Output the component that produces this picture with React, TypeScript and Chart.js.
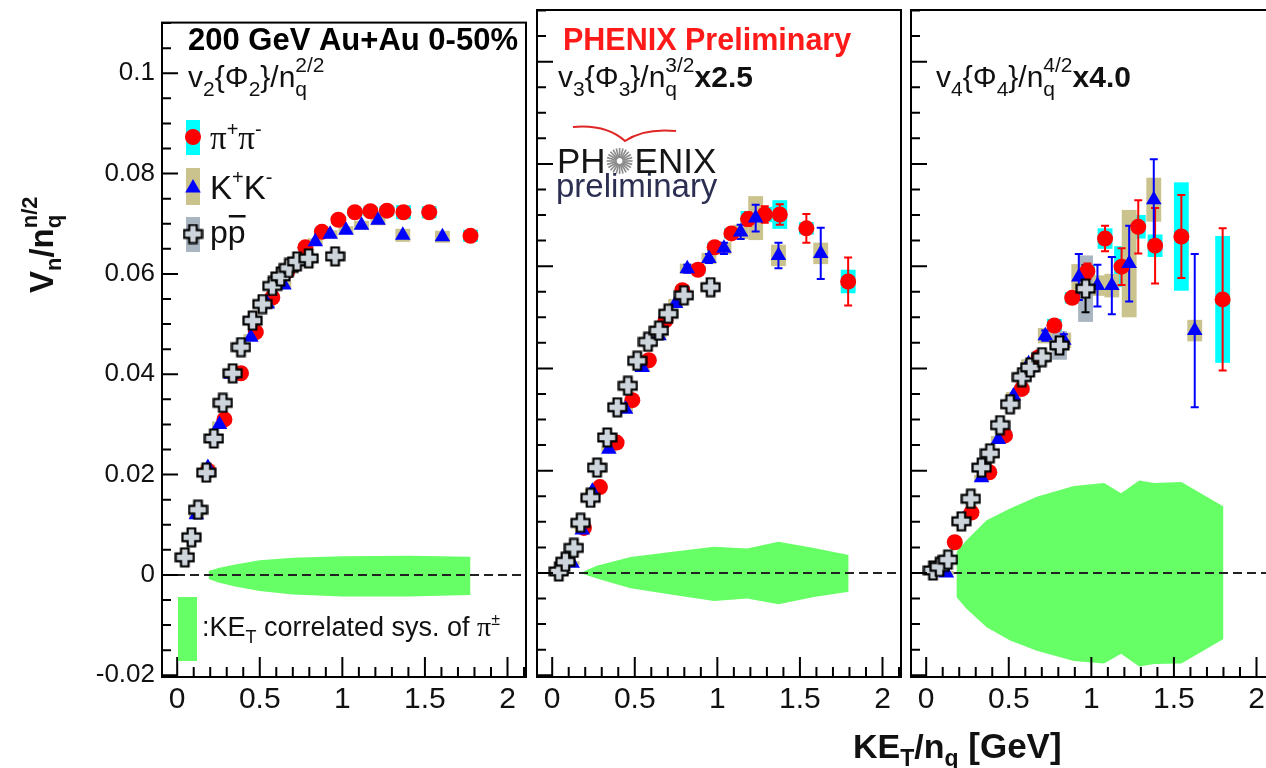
import React, { useEffect, useRef } from "react";
import { Chart, registerables } from "chart.js";
Chart.register(...registerables);

// ---------- axes ----------
const X_MIN = -0.092;
const X_MAX = 2.112;
const Y_MIN = -0.02035;
const Y_MAX = 0.1101;
const X_TICKS = [0, 0.5, 1, 1.5, 2];
const Y_TICKS = [-0.02, 0, 0.02, 0.04, 0.06, 0.08, 0.1];
const X_MINOR = 0.1;
const Y_MINOR = 0.005;
const BOX_HALF = 0.045;

// ---------- panel 1 : v2{Phi2}/nq^{2/2} ----------
const PI1_X = [0.186, 0.286, 0.386, 0.476, 0.576, 0.666, 0.776, 0.876, 0.976, 1.076, 1.17, 1.27, 1.37, 1.526, 1.776];
const PI1_Y = [0.0208, 0.031, 0.0402, 0.0484, 0.0553, 0.0605, 0.0653, 0.0684, 0.0708, 0.0723, 0.0725, 0.0726, 0.0723, 0.0723, 0.0676];
const PI1_ERR = [0, 0, 0, 0, 0, 0, 0, 0, 0, 0, 0, 0, 0, 0, 0];
const PI1_SYS = [0.0005, 0.0005, 0.0005, 0.0006, 0.0006, 0.0006, 0.0007, 0.0007, 0.0008, 0.0008, 0.0009, 0.001, 0.0014, 0.0012, 0.0012];
const K1_X = [0.116, 0.186, 0.256, 0.326, 0.446, 0.546, 0.646, 0.736, 0.836, 0.926, 1.022, 1.116, 1.216, 1.366, 1.606];
const K1_Y = [0.012, 0.0214, 0.03, 0.04, 0.0474, 0.054, 0.0578, 0.0625, 0.0664, 0.0679, 0.0687, 0.0697, 0.0707, 0.0677, 0.0674];
const K1_ERR = [0, 0, 0, 0, 0, 0, 0, 0, 0, 0, 0, 0, 0, 0, 0];
const K1_SYS = [0.0006, 0.0006, 0.0006, 0.0006, 0.0006, 0.0006, 0.0007, 0.0007, 0.0007, 0.0008, 0.0008, 0.0009, 0.001, 0.0013, 0.0012];
const P1_X = [0.046, 0.086, 0.126, 0.176, 0.222, 0.276, 0.336, 0.386, 0.456, 0.516, 0.576, 0.626, 0.676, 0.726, 0.796, 0.956];
const P1_Y = [0.0035, 0.0075, 0.013, 0.0204, 0.0272, 0.0343, 0.0402, 0.0454, 0.0507, 0.054, 0.0576, 0.0595, 0.0612, 0.0625, 0.0631, 0.0635];
const P1_ERR = [0, 0, 0, 0, 0, 0, 0, 0, 0, 0, 0, 0, 0, 0, 0, 0];
const P1_SYS = [0.0004, 0.0004, 0.0004, 0.0005, 0.0005, 0.0005, 0.0005, 0.0005, 0.0006, 0.0006, 0.0006, 0.0006, 0.0006, 0.0006, 0.0007, 0.0007];
const BAND1_X = [0.19, 0.25, 0.35, 0.5, 0.7, 1.0, 1.4, 1.776];
const BAND1_HI = [0.0008, 0.0014, 0.0021, 0.0029, 0.0034, 0.0037, 0.0038, 0.0036];
const BAND1_LO = [-0.0008, -0.0015, -0.0023, -0.0032, -0.0039, -0.0043, -0.0043, -0.004];

// ---------- panel 2 : v3{Phi3}/nq^{3/2} x2.5 ----------
const PI2_X = [0.192, 0.289, 0.39, 0.485, 0.585, 0.686, 0.788, 0.883, 0.984, 1.085, 1.186, 1.287, 1.378, 1.539, 1.792];
const PI2_Y = [0.0088, 0.0168, 0.0255, 0.0338, 0.0416, 0.0494, 0.0553, 0.0593, 0.0637, 0.0664, 0.0692, 0.0701, 0.0701, 0.0674, 0.057];
const PI2_ERR = [0.0002, 0.0002, 0.0002, 0.0003, 0.0003, 0.0004, 0.0005, 0.0006, 0.0008, 0.001, 0.0013, 0.0016, 0.002, 0.0028, 0.0047];
const PI2_SYS = [0.0004, 0.0004, 0.0005, 0.0005, 0.0006, 0.0006, 0.0007, 0.0008, 0.0009, 0.001, 0.0016, 0.0015, 0.0028, 0.0012, 0.0023];
const K2_X = [0.121, 0.182, 0.243, 0.343, 0.444, 0.545, 0.646, 0.747, 0.818, 0.949, 1.04, 1.141, 1.232, 1.37, 1.626];
const K2_Y = [0.0019, 0.0084, 0.016, 0.0242, 0.032, 0.0402, 0.0464, 0.0527, 0.0595, 0.0615, 0.0635, 0.0667, 0.0694, 0.0621, 0.0625];
const K2_ERR = [0.0002, 0.0003, 0.0003, 0.0004, 0.0004, 0.0005, 0.0006, 0.0007, 0.0008, 0.0009, 0.0011, 0.0014, 0.0026, 0.0025, 0.005];
const K2_SYS = [0.0004, 0.0005, 0.0005, 0.0006, 0.0006, 0.0007, 0.0008, 0.0009, 0.001, 0.0011, 0.0012, 0.0014, 0.0043, 0.0021, 0.0021];
const P2_X = [0.04, 0.08, 0.131, 0.172, 0.232, 0.272, 0.333, 0.394, 0.458, 0.515, 0.58, 0.646, 0.703, 0.798, 0.959];
const P2_Y = [0.0003, 0.0022, 0.0049, 0.0098, 0.0147, 0.0206, 0.0265, 0.0324, 0.0366, 0.0415, 0.0452, 0.0474, 0.0507, 0.0543, 0.0559];
const P2_ERR = [0, 0, 0, 0, 0, 0, 0, 0, 0, 0, 0, 0, 0, 0.0005, 0.0008];
const P2_SYS = [0.0003, 0.0003, 0.0003, 0.0004, 0.0004, 0.0004, 0.0005, 0.0005, 0.0005, 0.0006, 0.0006, 0.0006, 0.0007, 0.0008, 0.0009];
const BAND2_X = [0.17, 0.27, 0.475, 0.718, 0.98, 1.18, 1.37, 1.585, 1.795];
const BAND2_HI = [0.0, 0.0014, 0.0031, 0.0041, 0.0051, 0.0048, 0.0061, 0.0049, 0.0035];
const BAND2_LO = [0.0, -0.0011, -0.003, -0.0042, -0.0055, -0.005, -0.0061, -0.0047, -0.0037];

// ---------- panel 3 : v4{Phi4}/nq^{4/2} x4.0 ----------
const PI3_X = [0.173, 0.274, 0.382, 0.477, 0.579, 0.681, 0.776, 0.884, 0.976, 1.083, 1.183, 1.284, 1.386, 1.545, 1.795];
const PI3_Y = [0.006, 0.0118, 0.0197, 0.0269, 0.036, 0.0422, 0.0484, 0.0538, 0.059, 0.0654, 0.0599, 0.0677, 0.064, 0.0658, 0.0535];
const PI3_ERR = [0.0002, 0.0002, 0.0003, 0.0003, 0.0004, 0.0005, 0.0007, 0.001, 0.0015, 0.0025, 0.0036, 0.0052, 0.0074, 0.0081, 0.0139];
const PI3_SYS = [0.0004, 0.0005, 0.0006, 0.0007, 0.0008, 0.0009, 0.0013, 0.0011, 0.0013, 0.002, 0.004, 0.0023, 0.0022, 0.0106, 0.0124];
const K3_X = [0.122, 0.223, 0.335, 0.437, 0.528, 0.62, 0.721, 0.833, 0.924, 1.037, 1.124, 1.229, 1.378, 1.626];
const K3_Y = [0.0, 0.0104, 0.0186, 0.0261, 0.0346, 0.0409, 0.0464, 0.0455, 0.0579, 0.0562, 0.0562, 0.0605, 0.073, 0.0474];
const K3_ERR = [0.0003, 0.0003, 0.0004, 0.0005, 0.0006, 0.0007, 0.001, 0.0012, 0.0045, 0.0041, 0.0056, 0.0074, 0.0079, 0.015];
const K3_SYS = [0.0004, 0.0005, 0.0006, 0.0007, 0.0008, 0.0009, 0.0015, 0.0015, 0.0025, 0.002, 0.0023, 0.0105, 0.0043, 0.0021];
const P3_X = [0.041, 0.081, 0.132, 0.213, 0.27, 0.335, 0.386, 0.447, 0.508, 0.579, 0.63, 0.701, 0.807, 0.965];
const P3_Y = [0.0005, 0.0012, 0.0026, 0.0101, 0.0145, 0.0206, 0.0234, 0.0289, 0.033, 0.0383, 0.0402, 0.0422, 0.0445, 0.0556];
const P3_ERR = [0, 0, 0, 0, 0, 0, 0, 0, 0, 0, 0, 0.0007, 0.0012, 0.0046];
const P3_SYS = [0.0003, 0.0003, 0.0003, 0.0004, 0.0005, 0.0006, 0.0007, 0.0008, 0.0009, 0.001, 0.001, 0.0011, 0.0028, 0.0065];
const BAND3_X = [0.183, 0.244, 0.366, 0.508, 0.67, 0.894, 1.077, 1.18, 1.29, 1.38, 1.545, 1.8];
const BAND3_HI = [0.0041, 0.0064, 0.0103, 0.0126, 0.0149, 0.017, 0.0176, 0.0156, 0.0181, 0.0176, 0.0178, 0.013];
const BAND3_LO = [-0.0047, -0.007, -0.0106, -0.0132, -0.0152, -0.0172, -0.0177, -0.0158, -0.0183, -0.0178, -0.0177, -0.0129];

// ---------- style ----------
const CANVAS_W = 1300;
const CANVAS_H = 768;
const SANS = '"Liberation Sans", Arial, Helvetica, sans-serif';
const SERIF = '"Liberation Serif", "Times New Roman", serif';
const RED = "#ff0000";
const BLUE = "#0000ff";
const CYAN = "#00ffff";
const KHAKI = "#cbc38d";
const GRAYBOX = "#a9b5c1";
const GREEN = "#66ff66";

const R = (s: number) => `${s}px ${SANS}`;
const B = (s: number) => `bold ${s}px ${SANS}`;
const S = (s: number) => `${s}px ${SERIF}`;

type Seg = { t: string; f: string; dy?: number; stack?: boolean; c?: string };

function drawRich(ctx: CanvasRenderingContext2D, x: number, y: number, segs: Seg[], color: string) {
  let cx = x;
  let lastStart = x;
  ctx.textAlign = "left";
  ctx.textBaseline = "alphabetic";
  for (const s of segs) {
    ctx.font = s.f;
    ctx.fillStyle = s.c || color;
    const w = ctx.measureText(s.t).width;
    const sx = s.stack ? lastStart : cx;
    ctx.fillText(s.t, sx, y + (s.dy || 0));
    if (s.stack) cx = Math.max(cx, sx + w);
    else {
      lastStart = sx;
      cx = sx + w;
    }
  }
  return cx;
}

function makeCross() {
  const c = document.createElement("canvas");
  c.width = 21;
  c.height = 21;
  const g = c.getContext("2d")!;
  const a = 3.8, L = 9, cx = 10.5, cy = 10.5;
  g.beginPath();
  g.moveTo(cx - a, cy - L);
  g.lineTo(cx + a, cy - L);
  g.lineTo(cx + a, cy - a);
  g.lineTo(cx + L, cy - a);
  g.lineTo(cx + L, cy + a);
  g.lineTo(cx + a, cy + a);
  g.lineTo(cx + a, cy + L);
  g.lineTo(cx - a, cy + L);
  g.lineTo(cx - a, cy + a);
  g.lineTo(cx - L, cy + a);
  g.lineTo(cx - L, cy - a);
  g.lineTo(cx - a, cy - a);
  g.closePath();
  g.fillStyle = "#cdd4db";
  g.fill();
  g.lineWidth = 2.2;
  g.strokeStyle = "#000";
  g.stroke();
  return c;
}

function triangle(ctx: CanvasRenderingContext2D, x: number, y: number, r: number, color: string) {
  ctx.beginPath();
  ctx.moveTo(x, y - r);
  ctx.lineTo(x + r * 0.866, y + r * 0.5);
  ctx.lineTo(x - r * 0.866, y + r * 0.5);
  ctx.closePath();
  ctx.fillStyle = color;
  ctx.fill();
}

type Series = { x: number[]; y: number[]; err: number[]; sys: number[] };
type Panel = {
  left: number;
  right: number;
  showY: boolean;
  pi: Series;
  k: Series;
  p: Series;
  band: { x: number[]; hi: number[]; lo: number[] };
  deco: (ctx: CanvasRenderingContext2D, cross: HTMLCanvasElement) => void;
};

function decoPanel1(ctx: CanvasRenderingContext2D, cross: HTMLCanvasElement) {
  drawRich(ctx, 188, 50, [{ t: "200 GeV Au+Au 0-50%", f: B(31) }], "#000");
  drawRich(ctx, 188, 87, [
    { t: "v", f: R(30) },
    { t: "2", f: R(21), dy: 9 },
    { t: "{Φ", f: R(30) },
    { t: "2", f: R(21), dy: 9 },
    { t: "}/n", f: R(30) },
    { t: "q", f: R(21), dy: 9 },
    { t: "2/2", f: R(21), dy: -15, stack: true },
  ], "#111");
  // legend
  ctx.fillStyle = CYAN;
  ctx.fillRect(186, 120, 14, 35);
  ctx.fillStyle = RED;
  ctx.beginPath();
  ctx.arc(193, 137, 8, 0, Math.PI * 2);
  ctx.fill();
  drawRich(ctx, 210, 149, [
    { t: "π", f: S(33) },
    { t: "+", f: R(20), dy: -13 },
    { t: "π", f: S(33) },
    { t: "-", f: R(20), dy: -13 },
  ], "#111");
  ctx.fillStyle = KHAKI;
  ctx.fillRect(186, 168, 14, 37);
  triangle(ctx, 193, 188, 9, BLUE);
  drawRich(ctx, 210, 199, [
    { t: "K", f: R(33) },
    { t: "+", f: R(20), dy: -15 },
    { t: "K", f: R(33) },
    { t: "-", f: R(20), dy: -15 },
  ], "#111");
  ctx.fillStyle = GRAYBOX;
  ctx.fillRect(186, 217, 14, 35);
  ctx.drawImage(cross, 182.5, 223.5);
  const endP = drawRich(ctx, 210, 243, [{ t: "p", f: R(32) }], "#111");
  const endP2 = drawRich(ctx, endP, 243, [{ t: "p", f: R(32) }], "#111");
  ctx.fillStyle = "#111";
  ctx.fillRect(endP + 1, 215, endP2 - endP - 1, 2.5);
  // correlated sys legend
  ctx.fillStyle = GREEN;
  ctx.fillRect(178, 597, 19, 64);
  drawRich(ctx, 202, 636, [
    { t: ":KE", f: R(27) },
    { t: "T", f: R(18), dy: 7 },
    { t: " correlated sys. of ", f: R(27) },
    { t: "π", f: S(28) },
    { t: "±", f: R(16), dy: -11 },
  ], "#111");
  // y title
  ctx.save();
  ctx.translate(53, 293);
  ctx.rotate(-Math.PI / 2);
  drawRich(ctx, 0, 0, [
    { t: "V", f: B(33) },
    { t: "n", f: B(22), dy: 8 },
    { t: "/n", f: B(33) },
    { t: "q", f: B(22), dy: 8 },
    { t: "n/2", f: B(22), dy: -16, stack: true },
  ], "#111");
  ctx.restore();
}

function decoPanel2(ctx: CanvasRenderingContext2D) {
  drawRich(ctx, 563, 50, [{ t: "PHENIX Preliminary", f: B(30.5) }], "#ff1a1a");
  drawRich(ctx, 558, 87, [
    { t: "v", f: R(30) },
    { t: "3", f: R(21), dy: 9 },
    { t: "{Φ", f: R(30) },
    { t: "3", f: R(21), dy: 9 },
    { t: "}/n", f: R(30) },
    { t: "q", f: R(21), dy: 9 },
    { t: "3/2", f: R(21), dy: -15, stack: true },
    { t: "x2.5", f: B(30) },
  ], "#111");
  // PHENIX logo
  ctx.strokeStyle = "#e02525";
  ctx.lineWidth = 2;
  ctx.beginPath();
  ctx.moveTo(573, 127);
  ctx.quadraticCurveTo(606, 124, 625, 141);
  ctx.quadraticCurveTo(644, 128, 676, 131);
  ctx.stroke();
  const endPH = drawRich(ctx, 557, 173, [{ t: "PH", f: R(35) }], "#151515");
  const cx = endPH + 14, cy = 161;
  ctx.strokeStyle = "#8a8a8a";
  ctx.lineWidth = 1.6;
  for (let i = 0; i < 24; i++) {
    const a = (i / 24) * Math.PI * 2;
    ctx.beginPath();
    ctx.moveTo(cx + Math.cos(a) * 3, cy + Math.sin(a) * 3);
    ctx.lineTo(cx + Math.cos(a) * 13, cy + Math.sin(a) * 13);
    ctx.stroke();
  }
  drawRich(ctx, endPH + 29, 173, [{ t: "ENIX", f: R(35) }], "#151515");
  drawRich(ctx, 556, 197, [{ t: "preliminary", f: R(33) }], "#2c2f52");
  // x title
  drawRich(ctx, 853, 758, [
    { t: "KE", f: B(34) },
    { t: "T", f: B(23), dy: 8 },
    { t: "/n", f: B(34) },
    { t: "q", f: B(23), dy: 8 },
    { t: " [GeV]", f: B(35) },
  ], "#111");
}

function decoPanel3(ctx: CanvasRenderingContext2D) {
  drawRich(ctx, 936, 87, [
    { t: "v", f: R(30) },
    { t: "4", f: R(21), dy: 9 },
    { t: "{Φ", f: R(30) },
    { t: "4", f: R(21), dy: 9 },
    { t: "}/n", f: R(30) },
    { t: "q", f: R(21), dy: 9 },
    { t: "4/2", f: R(21), dy: -15, stack: true },
    { t: "x4.0", f: B(30) },
  ], "#111");
}

const PANELS: Panel[] = [
  {
    left: 162, right: 526, showY: true,
    pi: { x: PI1_X, y: PI1_Y, err: PI1_ERR, sys: PI1_SYS },
    k: { x: K1_X, y: K1_Y, err: K1_ERR, sys: K1_SYS },
    p: { x: P1_X, y: P1_Y, err: P1_ERR, sys: P1_SYS },
    band: { x: BAND1_X, hi: BAND1_HI, lo: BAND1_LO },
    deco: decoPanel1,
  },
  {
    left: 537, right: 901, showY: false,
    pi: { x: PI2_X, y: PI2_Y, err: PI2_ERR, sys: PI2_SYS },
    k: { x: K2_X, y: K2_Y, err: K2_ERR, sys: K2_SYS },
    p: { x: P2_X, y: P2_Y, err: P2_ERR, sys: P2_SYS },
    band: { x: BAND2_X, hi: BAND2_HI, lo: BAND2_LO },
    deco: (ctx) => decoPanel2(ctx),
  },
  {
    left: 911, right: 1275, showY: false,
    pi: { x: PI3_X, y: PI3_Y, err: PI3_ERR, sys: PI3_SYS },
    k: { x: K3_X, y: K3_Y, err: K3_ERR, sys: K3_SYS },
    p: { x: P3_X, y: P3_Y, err: P3_ERR, sys: P3_SYS },
    band: { x: BAND3_X, hi: BAND3_HI, lo: BAND3_LO },
    deco: (ctx) => decoPanel3(ctx),
  },
];

const zip = (xs: number[], ys: number[]) => xs.map((x, i) => ({ x, y: ys[i] }));
const fmt = (v: number) => Number(v.toFixed(3)).toString();

function panelPlugin(panel: Panel, cross: HTMLCanvasElement, id: number) {
  return {
    id: "panelDeco" + id,
    beforeDatasetDraw(chart: any, args: any) {
      if (args.index !== 2) return;
      const ctx: CanvasRenderingContext2D = chart.ctx;
      const xs = chart.scales.x;
      const ys = chart.scales.y;
      const a = chart.chartArea;
      ctx.save();
      ctx.beginPath();
      ctx.rect(a.left, a.top, a.right - a.left, a.bottom - a.top);
      ctx.clip();
      // zero line
      ctx.strokeStyle = "#222";
      ctx.lineWidth = 2;
      ctx.setLineDash([9, 5]);
      const y0 = ys.getPixelForValue(0);
      ctx.beginPath();
      ctx.moveTo(a.left, y0);
      ctx.lineTo(a.right, y0);
      ctx.stroke();
      ctx.setLineDash([]);
      // systematic boxes
      const boxes: [Series, string][] = [[panel.pi, CYAN], [panel.k, KHAKI], [panel.p, GRAYBOX]];
      for (const [s, col] of boxes) {
        ctx.fillStyle = col;
        s.x.forEach((xv, i) => {
          const x1 = xs.getPixelForValue(xv - BOX_HALF);
          const x2 = xs.getPixelForValue(xv + BOX_HALF);
          const y1 = ys.getPixelForValue(s.y[i] + s.sys[i]);
          const y2 = ys.getPixelForValue(s.y[i] - s.sys[i]);
          ctx.fillRect(x1, y1, x2 - x1, y2 - y1);
        });
      }
      // statistical error bars
      const bars: [Series, string][] = [[panel.pi, RED], [panel.k, BLUE], [panel.p, "#000"]];
      ctx.lineWidth = 2;
      for (const [s, col] of bars) {
        ctx.strokeStyle = col;
        s.x.forEach((xv, i) => {
          const x = xs.getPixelForValue(xv);
          const y1 = ys.getPixelForValue(s.y[i] + s.err[i]);
          const y2 = ys.getPixelForValue(s.y[i] - s.err[i]);
          if (y2 - y1 < 8) return;
          ctx.beginPath();
          ctx.moveTo(x, y1);
          ctx.lineTo(x, y2);
          ctx.moveTo(x - 4, y1);
          ctx.lineTo(x + 4, y1);
          ctx.moveTo(x - 4, y2);
          ctx.lineTo(x + 4, y2);
          ctx.stroke();
        });
      }
      ctx.restore();
    },
    afterDraw(chart: any) {
      const ctx: CanvasRenderingContext2D = chart.ctx;
      const xs = chart.scales.x;
      const ys = chart.scales.y;
      const a = chart.chartArea;
      ctx.save();
      ctx.strokeStyle = "#000";
      ctx.lineWidth = 2;
      ctx.strokeRect(a.left, a.top, a.right - a.left, a.bottom - a.top);
      ctx.beginPath();
      for (let k = Math.ceil(Y_MIN / Y_MINOR); k * Y_MINOR <= Y_MAX; k++) {
        const y = ys.getPixelForValue(k * Y_MINOR);
        const len = k % 4 === 0 ? 16 : 9;
        ctx.moveTo(a.left, y);
        ctx.lineTo(a.left + len, y);
      }
      for (let k = Math.ceil(X_MIN / X_MINOR); k * X_MINOR <= X_MAX; k++) {
        const x = xs.getPixelForValue(k * X_MINOR);
        const len = k % 5 === 0 ? 20 : 10;
        ctx.moveTo(x, a.bottom);
        ctx.lineTo(x, a.bottom - len);
      }
      ctx.stroke();
      panel.deco(ctx, cross);
      ctx.restore();
    },
  };
}

function makeConfig(panel: Panel, cross: HTMLCanvasElement, id: number): any {
  return {
    type: "scatter",
    data: {
      datasets: [
        { label: "p pbar", data: zip(panel.p.x, panel.p.y), pointStyle: cross, pointRadius: 9, borderWidth: 0 },
        { label: "K+K-", data: zip(panel.k.x, panel.k.y), pointStyle: "triangle", pointRadius: 9, backgroundColor: BLUE, borderColor: BLUE, borderWidth: 0 },
        { label: "pi+pi-", data: zip(panel.pi.x, panel.pi.y), pointStyle: "circle", pointRadius: 8, backgroundColor: RED, borderColor: RED, borderWidth: 0 },
        { label: "sys hi", data: zip(panel.band.x, panel.band.hi), showLine: true, pointRadius: 0, borderWidth: 0, borderColor: "rgba(0,0,0,0)", backgroundColor: GREEN, fill: "+1", tension: 0 },
        { label: "sys lo", data: zip(panel.band.x, panel.band.lo), showLine: true, pointRadius: 0, borderWidth: 0, borderColor: "rgba(0,0,0,0)", backgroundColor: GREEN, fill: false, tension: 0 },
      ],
    },
    options: {
      responsive: false,
      animation: false,
      events: [],
      layout: { padding: { left: panel.showY ? 0 : panel.left, right: CANVAS_W - panel.right, top: 10, bottom: 0 } },
      plugins: { legend: { display: false }, tooltip: { enabled: false } },
      scales: {
        x: {
          type: "linear",
          min: X_MIN,
          max: X_MAX,
          afterFit: (s: any) => { s.height = 91; },
          afterBuildTicks: (s: any) => { s.ticks = X_TICKS.map((v) => ({ value: v })); },
          grid: { display: false, drawTicks: false },
          border: { display: false },
          ticks: { font: { family: SANS, size: 30 }, color: "#111", padding: 5, maxRotation: 0, autoSkip: false, callback: (v: number) => fmt(v) },
        },
        y: {
          type: "linear",
          display: panel.showY,
          min: Y_MIN,
          max: Y_MAX,
          afterFit: (s: any) => { s.width = panel.showY ? panel.left : 0; },
          afterBuildTicks: (s: any) => { s.ticks = Y_TICKS.map((v) => ({ value: v })); },
          grid: { display: false, drawTicks: false },
          border: { display: false },
          ticks: { font: { family: SANS, size: 26 }, color: "#111", padding: 7, autoSkip: false, callback: (v: number) => fmt(v) },
        },
      },
    },
    plugins: [panelPlugin(panel, cross, id)],
  };
}

export default function App() {
  const r0 = useRef<HTMLCanvasElement>(null);
  const r1 = useRef<HTMLCanvasElement>(null);
  const r2 = useRef<HTMLCanvasElement>(null);
  useEffect(() => {
    const cross = makeCross();
    const refs = [r0, r1, r2];
    const charts = PANELS.map((p, i) => new Chart(refs[i].current!, makeConfig(p, cross, i)));
    return () => charts.forEach((c) => c.destroy());
  }, []);
  const refs = [r0, r1, r2];
  return (
    <div style={{ position: "fixed", left: 0, top: 0, width: 1266, height: 768, overflow: "hidden", background: "#fff" }}>
      {refs.map((r, i) => (
        <canvas key={i} ref={r} width={CANVAS_W} height={CANVAS_H} style={{ position: "absolute", left: 0, top: 0, width: CANVAS_W, height: CANVAS_H }} />
      ))}
    </div>
  );
}
